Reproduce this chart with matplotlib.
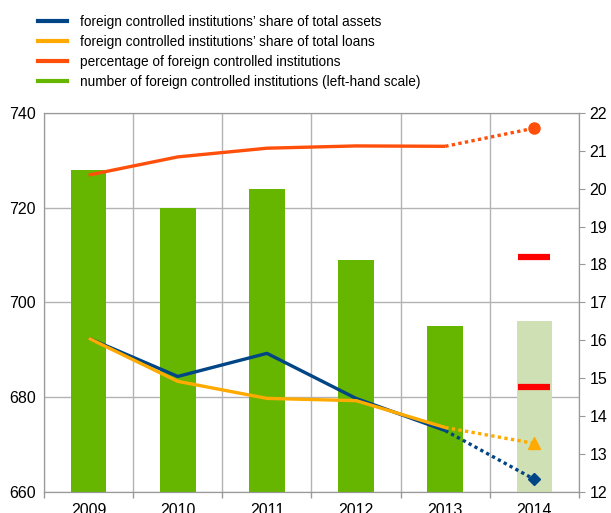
import numpy as np
import matplotlib
matplotlib.use('Agg')
import matplotlib.pyplot as plt
from matplotlib.lines import Line2D

plt.rcParams['font.family'] = ['Liberation Sans', 'DejaVu Sans']

# Dados
years = ['2009', '2010', '2011', '2012', '2013', '2014']
n_institutions = [728, 720, 724, 709, 695, 696]          # escala esquerda
share_assets = [16.05, 15.04, 15.65, 14.46, 13.61, 12.32]  # escala direita
share_loans = [16.05, 14.91, 14.46, 14.40, 13.69, 13.27]
pct_institutions = [20.36, 20.84, 21.07, 21.13, 21.12, 21.60]
range_2014 = [14.75, 18.19]

labels = ['foreign controlled institutions\u2019 share of total assets',
          'foreign controlled institutions\u2019 share of total loans',
          'percentage of foreign controlled institutions',
          'number of foreign controlled institutions (left-hand scale)']

c_blue = '#004586'
c_loans = '#ffaa00'
c_pct = '#ff4f0a'
c_bar = '#66b600'
c_bar_light = '#cfe1b4'
c_grid = '#b3b3b3'
tick_fs = 11.5

fig = plt.figure(figsize=(6.11, 5.13), dpi=100)
ax = fig.add_axes([44 / 611, 1 - 491.5 / 513, (579 - 44) / 611, (491.5 - 113) / 513])

x = np.arange(len(years))
bar_colors = [c_bar] * (len(years) - 1) + [c_bar_light]
ax.bar(x, n_institutions, width=0.4, color=bar_colors, zorder=2)
ax.set_ylim(660, 740)
ax.set_xlim(-0.5, len(years) - 0.5)
ax.set_yticks([660, 680, 700, 720, 740])
ax.set_xticks(x)
ax.set_xticklabels(years)
ax.set_xticks(np.arange(-0.5, len(years), 1), minor=True)
ax.tick_params(axis='x', which='major', length=0, pad=8, labelsize=tick_fs)
ax.tick_params(axis='x', which='minor', length=4.5, color='#999999', width=1)
ax.tick_params(axis='y', length=0, pad=6, labelsize=tick_fs)
ax.grid(True, axis='y', color=c_grid, lw=1, zorder=0)
ax.grid(True, axis='x', which='minor', color=c_grid, lw=1, zorder=0)
for s in ax.spines.values():
    s.set_color('#999999')
ax.set_axisbelow(True)

ax2 = ax.twinx()
ax2.set_ylim(12, 22)
ax2.set_yticks(range(12, 23))
ax2.tick_params(axis='y', length=4.5, pad=3, color='#999999', labelsize=tick_fs)
for s in ax2.spines.values():
    s.set_color('#999999')

lw = 2.4
dots = (0, (1, 1))
for vals, col, mk, ms in [(share_assets, c_blue, 'D', 6),
                          (share_loans, c_loans, '^', 9),
                          (pct_institutions, c_pct, 'o', 8)]:
    ax2.plot(x[:5], vals[:5], color=col, lw=lw, solid_capstyle='butt')
    ax2.plot(x[4:], vals[4:], color=col, lw=lw, linestyle=dots)
    ax2.plot(x[5], vals[5], marker=mk, color=col, markersize=ms, linestyle='none')

ax2.hlines(range_2014, x[5] - 0.18, x[5] + 0.18, color='#ff0000', lw=4.5)

handles = [Line2D([], [], color=c, lw=3) for c in [c_blue, c_loans, c_pct, c_bar]]
fig.legend(handles, labels, loc='upper left', bbox_to_anchor=(38 / 611, 1 - 15 / 513),
           frameon=False, fontsize=9.8, handlelength=2.1, handletextpad=0.95,
           labelspacing=0.44, borderpad=0, borderaxespad=0)

fig.savefig('out.png', dpi=100)
